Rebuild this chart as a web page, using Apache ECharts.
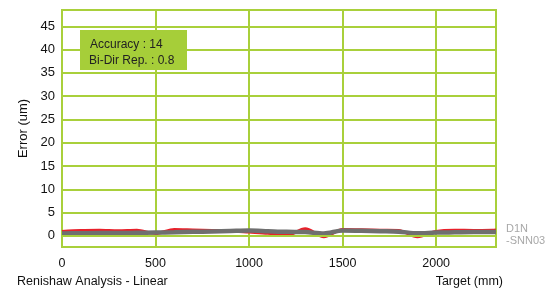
<!DOCTYPE html>
<html>
<head>
<meta charset="utf-8">
<script src="https://cdn.jsdelivr.net/npm/echarts@6/dist/echarts.min.js"></script>
<style>
  html, body { margin: 0; padding: 0; background: #fff; }
  #chart { width: 546px; height: 298px; }
</style>
</head>
<body>
<div id="chart"></div>
<script>
// target positions (mm)
var targets = [0, 100, 200, 300, 400, 500, 600, 700, 800, 900, 1000, 1100, 1200,
  1300, 1400, 1500, 1600, 1700, 1800, 1900, 2000, 2100, 2200, 2300, 2320];
// error run A (red)
var runRed = [0.95, 1.15, 1.2, 1.1, 1.2, 0.5, 1.35, 1.25, 1.15, 1.05, 0.8, 0.55, 0.1,
  1.5, -0.2, 1.35, 1.3, 1.2, 1.15, -0.2, 0.95, 1.2, 1.15, 1.2, 1.25];
// error run B (gray)
var runGray = [0.5, 0.55, 0.6, 0.6, 0.65, 0.7, 0.75, 0.85, 0.95, 1.05, 1.15, 1.0, 0.85,
  0.8, 0.5, 1.15, 1.1, 1.0, 0.9, 0.55, 0.7, 0.75, 0.8, 0.8, 0.8];
var yTicks = [0, 5, 10, 15, 20, 25, 30, 35, 40, 45];
var statLines = ['Accuracy : 14', 'Bi-Dir Rep. : 0.8'];

(function(){
  var c = echarts.init(document.getElementById('chart'));
  var green = '#a9d03b';
  var txt = '#111';
  var font = '"Liberation Sans", Arial, sans-serif';

  function pairs(ys) {
    return targets.map(function(x, i){ return [x, ys[i]]; });
  }

  c.setOption({
    animation: false,
    grid: { left: 62, right: 50, top: 10, bottom: 51, show: true,
      borderColor: green, borderWidth: 2, backgroundColor: '#fff' },
    xAxis: { type: 'value', min: 0, max: 2320, interval: 500,
      axisLine: { show: false }, axisTick: { show: false },
      splitLine: { show: true, lineStyle: { color: green, width: 2 } },
      axisLabel: { color: txt, fontSize: 12.5, fontFamily: font, margin: 10,
        showMaxLabel: false, formatter: function(v){ return String(v); } } },
    yAxis: { type: 'value', min: -2.4, max: 48.5,
      name: 'Error (um)', nameLocation: 'middle', nameGap: 29,
      nameTextStyle: { color: txt, fontSize: 13, fontFamily: font },
      axisLine: { show: false },
      axisTick: { show: false, customValues: yTicks },
      splitLine: { show: false },
      axisLabel: { color: txt, fontSize: 13, fontFamily: font, margin: 7,
        customValues: yTicks } },
    series: [
      { type: 'line', data: pairs(runRed), showSymbol: false, smooth: 0.3,
        lineStyle: { color: '#e8202a', width: 3 }, z: 3,
        markLine: { silent: true, symbol: 'none', label: { show: false },
          lineStyle: { color: green, width: 2, type: 'solid' },
          data: yTicks.map(function(v){ return { yAxis: v }; }) } },
      { type: 'line', data: pairs(runGray), showSymbol: false, smooth: 0.3,
        lineStyle: { color: '#6f6f6f', width: 4.5 }, z: 4 }
    ],
    graphic: [
      { type: 'rect', left: 80, top: 30, shape: { width: 107, height: 40 },
        style: { fill: '#a6ce39' }, z: 10 },
      { type: 'text', left: 90, top: 39, z: 11,
        style: { text: statLines[0], fill: '#222', font: '12px ' + font } },
      { type: 'text', left: 89, top: 55, z: 11,
        style: { text: statLines[1], fill: '#222', font: '12px ' + font } },
      { type: 'text', left: 506, top: 223, z: 11,
        style: { text: 'D1N\n-SNN03', fill: '#a8a8a8', font: '11px ' + font, lineHeight: 12 } },
      { type: 'text', left: 17, top: 275, z: 11,
        style: { text: 'Renishaw Analysis - Linear', fill: txt, font: '12.5px ' + font } },
      { type: 'text', right: 43, top: 275, z: 11,
        style: { text: 'Target (mm)', fill: txt, font: '12.5px ' + font } }
    ]
  });
})();
</script>
</body>
</html>
